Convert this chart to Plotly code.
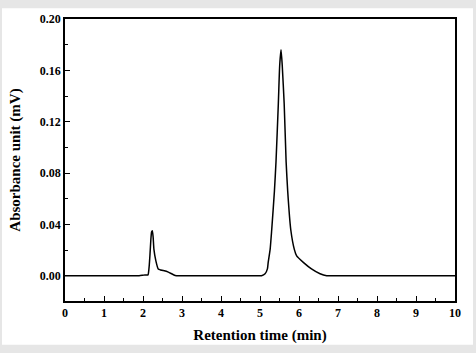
import plotly.graph_objects as go

# Chromatogram
time_min = [0.0, 0.5, 1.0, 1.5, 1.9, 2.0, 2.05, 2.1, 2.13, 2.16, 2.18, 2.20, 2.22, 2.24, 2.26, 2.28,
            2.33, 2.39, 2.45, 2.52, 2.65, 2.78, 2.86, 3.0, 3.5, 4.0, 4.5, 5.0, 5.04, 5.13, 5.19,
            5.21, 5.26, 5.30, 5.37, 5.41, 5.47, 5.505, 5.54, 5.57, 5.62, 5.67, 5.71, 5.79,
            5.88, 5.94, 6.11, 6.32, 6.54, 6.71, 7.0, 8.0, 9.0, 10.0]
absorbance = [0.0, 0.0, 0.0, 0.0, 0.0, 0.0004, 0.0006, 0.0005, 0.0008, 0.008, 0.017, 0.0275, 0.034, 0.035, 0.030, 0.0205,
              0.0116, 0.0053, 0.0045, 0.004, 0.0028, 0.0008, 0.0, 0.0, 0.0, 0.0, 0.0, 0.0, 0.0, 0.0015, 0.0053,
              0.0104, 0.0205, 0.0356, 0.066, 0.0886, 0.134, 0.164, 0.176, 0.164, 0.134, 0.0886, 0.066, 0.0356,
              0.0205, 0.0154, 0.0104, 0.0053, 0.0015, 0.0, 0.0, 0.0, 0.0, 0.0]

x_ticks = list(range(0, 11))
y_ticks = [0.00, 0.04, 0.08, 0.12, 0.16, 0.20]
y_tick_labels = ["0.00", "0.04", "0.08", "0.12", "0.16", "0.20"]

font_family = "Liberation Serif"

fig = go.Figure()
fig.add_trace(go.Scatter(x=time_min, y=absorbance, mode="lines",
                         line=dict(color="black", width=1.5, shape="spline", smoothing=0.5),
                         showlegend=False, hoverinfo="skip"))

axis_common = dict(showline=True, linecolor="black", linewidth=1.5, mirror=True,
                   ticks="inside", ticklen=5, tickwidth=1.2, tickcolor="black",
                   showgrid=False, zeroline=False,
                   tickfont=dict(family=font_family, size=12, color="black", weight="bold"))

fig.update_xaxes(range=[0, 10], tickvals=x_ticks, ticktext=[str(v) for v in x_ticks],
                 minor=dict(ticks="inside", ticklen=3, tickwidth=1, tickcolor="black", dtick=0.5, showgrid=False),
                 title=dict(text="<b>Retention time (min)</b>", standoff=10,
                            font=dict(family=font_family, size=15, color="black")),
                 **axis_common)
fig.update_yaxes(range=[-0.0197, 0.20], tickvals=y_ticks, ticktext=y_tick_labels,
                 minor=dict(ticks="inside", ticklen=3, tickwidth=1, tickcolor="black", tickvals=[0.02, 0.06, 0.10, 0.14, 0.18], showgrid=False),
                 title=dict(text="<b>Absorbance unit (mV)</b>", standoff=16,
                            font=dict(family=font_family, size=15, color="black")),
                 **axis_common)

fig.add_shape(type="rect", xref="paper", yref="paper", layer="below",
              x0=(2 - 65) / 390, x1=(473 - 65) / 390, y0=(303 - 348) / 290, y1=(303 - 2) / 290,
              fillcolor="white", line=dict(width=0))

fig.update_layout(width=476, height=353, margin=dict(l=65, r=21, t=13, b=50),
                  paper_bgcolor="#e6e6e6", plot_bgcolor="white")

fig.write_html("out.html")
